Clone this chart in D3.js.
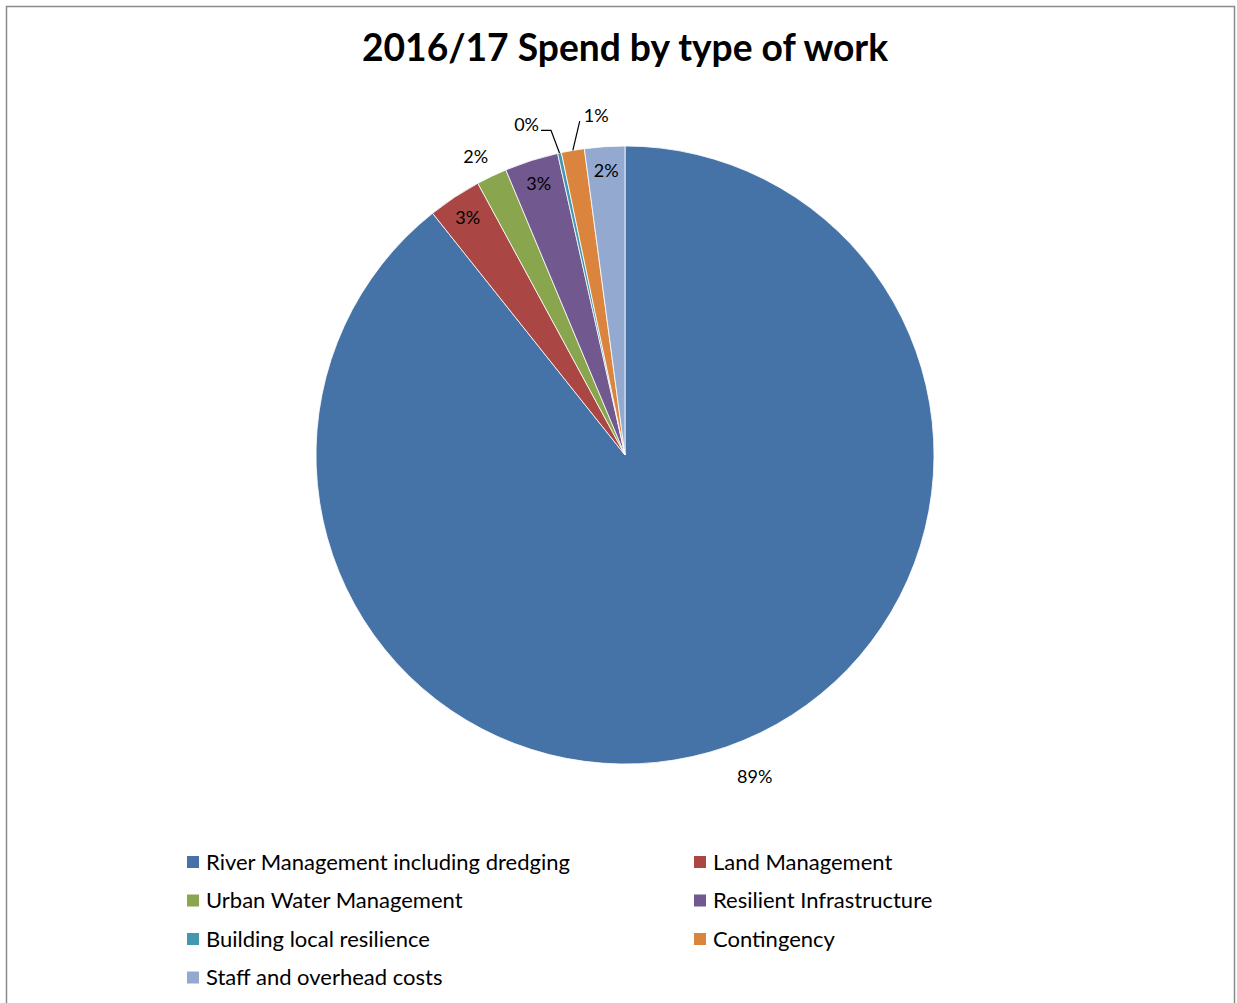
<!DOCTYPE html>
<meta charset="utf-8">
<style>
body { margin: 0; background: #fff; }
text { font-family: Lato, "Open Sans", sans-serif; fill: #000; }
</style>
<svg width="1237" height="1003"></svg>
<script src="https://d3js.org/d3.v7.min.js"></script>
<script>
// slices clockwise from 12 o'clock, share of total spend (%)
var categories = ["River Management including dredging", "Land Management", "Urban Water Management",
                  "Resilient Infrastructure", "Building local resilience", "Contingency", "Staff and overhead costs"];
var shares = [89.3, 2.8, 1.6, 2.8, 0.2, 1.2, 2.1];
var labels = ["89%", "3%", "2%", "3%", "0%", "1%", "2%"];
var colors = ["#4572A7", "#AA4643", "#89A54E", "#71588F", "#4198AF", "#DB843D", "#93A9CF"];
// where each data label sits: in = inside, out = outside, lead = outside with leader line
var labelMode = ["out", "in", "out", "in", "leadLeft", "leadRight", "in"];

var svg = d3.select("svg"),
    cx = 625, cy = 455, r = 309,
    deg = Math.PI / 180;

// chart frame
svg.append("rect")
    .attr("x", 6.5).attr("y", 6.5)
    .attr("width", 1228).attr("height", 1010)
    .attr("fill", "none")
    .attr("stroke", "#8a8a8a")
    .attr("stroke-width", 1.5);

svg.append("text")
    .attr("x", cx).attr("y", 61)
    .attr("text-anchor", "middle")
    .style("font-size", "37.2px")
    .style("font-weight", "bold")
    .text("2016/17 Spend by type of work");

var data = categories.map(function(c, i) {
  return {name: c, value: shares[i], label: labels[i], color: colors[i], mode: labelMode[i]};
});

var pie = d3.pie().sort(null).value(function(d) { return d.value; });
var arc = d3.arc().innerRadius(0).outerRadius(r);
var arcs = pie(data);

var g = svg.append("g").attr("transform", "translate(" + cx + "," + cy + ")");

g.selectAll("path")
    .data(arcs)
  .enter().append("path")
    .attr("d", arc)
    .attr("fill", function(d) { return d.data.color; })
    .attr("stroke", "#fff")
    .attr("stroke-width", 0.8);

function polar(rad, ang) {
  return [rad * Math.sin(ang), -rad * Math.cos(ang)];
}
function mid(d) { return (d.startAngle + d.endAngle) / 2; }

arcs.forEach(function(d) {
  var m = mid(d), p, t;
  if (d.data.mode === "in") {
    p = polar(285, m);
  } else if (d.data.mode === "out") {
    // big slice label sits a little before its mid angle (Excel best fit)
    p = d.value > 50 ? polar(347, m - 2.7 * deg) : polar(334, m - 1 * deg);
  }
  if (p) {
    g.append("text")
        .attr("x", p[0]).attr("y", p[1])
        .attr("dy", "0.35em")
        .attr("text-anchor", "middle")
        .style("font-size", "18px")
        .text(d.data.label);
    return;
  }
  var a = polar(r, m);
  if (d.data.mode === "leadLeft") {
    var e = polar(333, m - 0.6 * deg);
    g.append("polyline")
        .attr("points", [a, e, [e[0] - 10, e[1]]].map(function(q) { return q.join(","); }).join(" "))
        .attr("fill", "none").attr("stroke", "#000").attr("stroke-width", 1.2);
    t = g.append("text").attr("x", e[0] - 12).attr("y", e[1] - 6).attr("text-anchor", "end");
  } else {
    var e2 = polar(337, m + 2 * deg);
    g.append("line")
        .attr("x1", a[0]).attr("y1", a[1]).attr("x2", e2[0]).attr("y2", e2[1])
        .attr("stroke", "#000").attr("stroke-width", 1.2);
    t = g.append("text").attr("x", e2[0] + 4).attr("y", e2[1] - 5).attr("text-anchor", "start");
  }
  t.attr("dy", "0.35em").style("font-size", "18px").text(d.data.label);
});

// legend: two columns
var legend = svg.append("g");
var item = legend.selectAll("g")
    .data(data)
  .enter().append("g")
    .attr("transform", function(d, i) {
      return "translate(" + (i % 2 ? 694 : 187) + "," + (862 + Math.floor(i / 2) * 38.5) + ")";
    });
item.append("rect")
    .attr("x", 0).attr("y", -6)
    .attr("width", 12).attr("height", 12)
    .attr("fill", function(d) { return d.color; });
item.append("text")
    .attr("x", 19).attr("dy", "0.35em")
    .style("font-size", "22px")
    .text(function(d) { return d.name; });
</script>
